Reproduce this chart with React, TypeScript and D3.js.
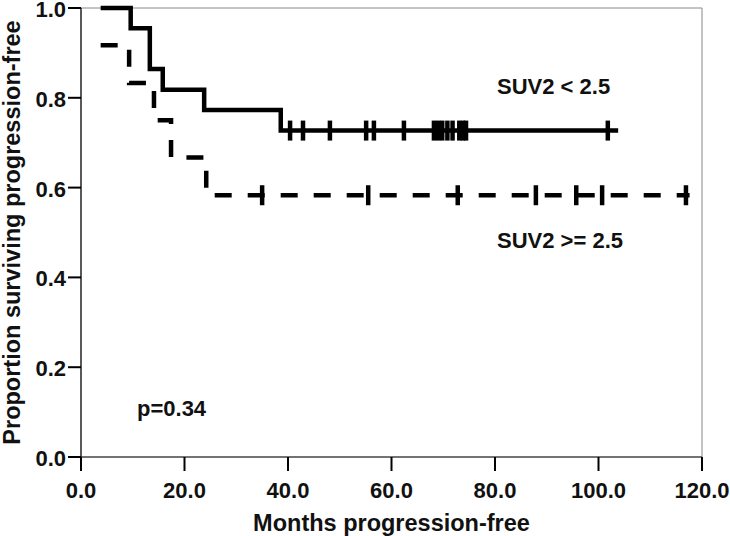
import React from "react";
import * as d3 from "d3";

const xTicks = [0, 20, 40, 60, 80, 100, 120];
const yTicks = [0, 0.2, 0.4, 0.6, 0.8, 1.0];

// SUV2 < 2.5 (solid)
const lowStart = 3.8;
const lowStartSurv = 1.0;
const lowEventTimes = [9.6, 13.3, 15.8, 23.8, 38.6];
const lowEventSurv = [0.955, 0.864, 0.818, 0.773, 0.727];
const lowEnd = 103.8;
const lowCensor = [40.4, 42.9, 48.1, 55.1, 56.6, 62.4, 68.2, 69.0, 69.8, 70.8, 71.8, 73.1, 73.8, 74.4, 101.8];

// SUV2 >= 2.5 (dashed)
const highStart = 3.8;
const highStartSurv = 0.917;
const highEventTimes = [9.3, 14.1, 17.4, 24.2];
const highEventSurv = [0.833, 0.75, 0.667, 0.583];
const highEnd = 117.6;
const highCensor = [35.0, 55.5, 72.8, 87.9, 95.7, 100.7, 116.9];

const W = 730;
const H = 536;
const FONT = "'Liberation Sans', Arial, sans-serif";

function stepPoints(start: number, startSurv: number, times: number[], surv: number[], end: number): [number, number][] {
  const pts: [number, number][] = [[start, startSurv]];
  times.forEach((t, i) => pts.push([t, surv[i]]));
  pts.push([end, surv[surv.length - 1]]);
  return pts;
}

function survAt(t: number, startSurv: number, times: number[], surv: number[]) {
  let s = startSurv;
  times.forEach((tt, i) => {
    if (t >= tt) s = surv[i];
  });
  return s;
}

export default function App() {
  const x = d3.scaleLinear().domain([0, 120]).range([81, 702]);
  const y = d3.scaleLinear().domain([0, 1]).range([457, 8]);
  const line = d3
    .line<[number, number]>()
    .x((d) => x(d[0]))
    .y((d) => y(d[1]))
    .curve(d3.curveStepAfter);

  const lowPts = stepPoints(lowStart, lowStartSurv, lowEventTimes, lowEventSurv, lowEnd);
  const highPts = stepPoints(highStart, highStartSurv, highEventTimes, highEventSurv, highEnd);

  const censorMark = (t: number, s: number, key: string) => (
    <line key={key} x1={x(t)} x2={x(t)} y1={y(s) - 10} y2={y(s) + 10} stroke="#000" strokeWidth={4.5} />
  );

  return (
    <svg width={W} height={H} style={{ position: "absolute", left: 0, top: 0, background: "#fff" }}>
      <rect x={0} y={0} width={W} height={H} fill="#fff" />
      {/* frame */}
      <line x1={x(0)} x2={x(120)} y1={y(1)} y2={y(1)} stroke="#888" strokeWidth={1} />
      <line x1={x(120)} x2={x(120)} y1={y(1)} y2={y(0)} stroke="#888" strokeWidth={1} />
      <line x1={x(0)} x2={x(120)} y1={y(0)} y2={y(0)} stroke="#444" strokeWidth={1.5} />
      <line x1={x(0)} x2={x(0)} y1={y(1)} y2={y(0)} stroke="#222" strokeWidth={1.5} />
      {/* y ticks */}
      {yTicks.map((v) => (
        <g key={"y" + v}>
          <line x1={x(0) - 13} x2={x(0)} y1={y(v)} y2={y(v)} stroke="#000" strokeWidth={2} />
          <text x={x(0) - 15} y={y(v) + 1} dy="0.36em" textAnchor="end" fontFamily={FONT} fontWeight="bold" fontSize={22} fill="#111">
            {v.toFixed(1)}
          </text>
        </g>
      ))}
      {/* x ticks */}
      {xTicks.map((v) => (
        <g key={"x" + v}>
          <line x1={x(v)} x2={x(v)} y1={y(0)} y2={y(0) + 14} stroke="#000" strokeWidth={2} />
          <text x={x(v)} y={498} textAnchor="middle" fontFamily={FONT} fontWeight="bold" fontSize={22} fill="#111">
            {v.toFixed(1)}
          </text>
        </g>
      ))}
      <text x={(x(0) + x(120)) / 2} y={531} textAnchor="middle" fontFamily={FONT} fontWeight="bold" fontSize={23.5} fill="#111">
        Months progression-free
      </text>
      <text
        transform={`translate(20, ${(y(0) + y(1)) / 2}) rotate(-90)`}
        textAnchor="middle"
        fontFamily={FONT}
        fontWeight="bold"
        fontSize={23.5}
        fill="#111"
      >
        Proportion surviving progression-free
      </text>
      {/* curves */}
      <path d={line(lowPts) || ""} fill="none" stroke="#000" strokeWidth={4.5} />
      <path d={line(highPts) || ""} fill="none" stroke="#000" strokeWidth={4.5} strokeDasharray="17,16" />
      {lowCensor.map((t, i) => censorMark(t, survAt(t, lowStartSurv, lowEventTimes, lowEventSurv), "lc" + i))}
      {highCensor.map((t, i) => censorMark(t, survAt(t, highStartSurv, highEventTimes, highEventSurv), "hc" + i))}
      {/* annotations */}
      <text x={497} y={94} fontFamily={FONT} fontWeight="bold" fontSize={22} fill="#111">
        SUV2 &lt; 2.5
      </text>
      <text x={497} y={248} fontFamily={FONT} fontWeight="bold" fontSize={22} fill="#111">
        SUV2 &gt;= 2.5
      </text>
      <text x={137} y={416} fontFamily={FONT} fontWeight="bold" fontSize={22} fill="#111">
        p=0.34
      </text>
    </svg>
  );
}
